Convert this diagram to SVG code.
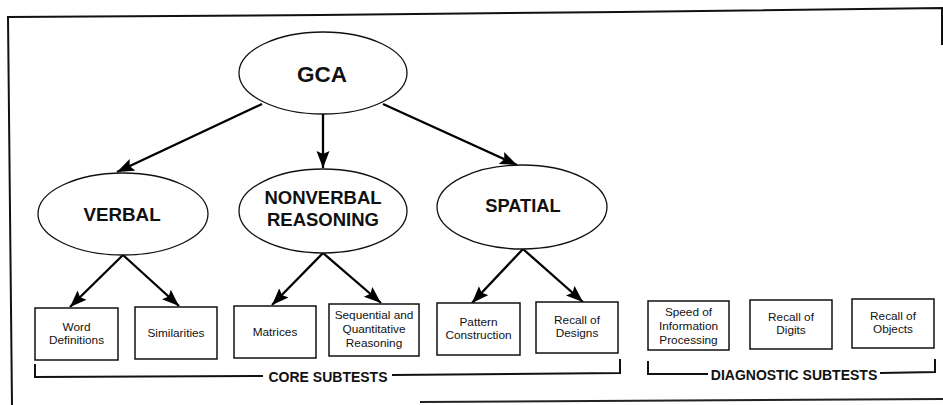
<svg xmlns="http://www.w3.org/2000/svg" width="943" height="405" viewBox="0 0 943 405">
  <defs>
    <marker id="arrow" markerUnits="userSpaceOnUse" markerWidth="18" markerHeight="14" refX="17" refY="6.5" orient="auto">
      <path d="M0,0 L17,6.5 L0,13 L3,6.5 z" fill="#000"/>
    </marker>
    <style>
      .frame { fill: none; stroke: #111; stroke-width: 2; }
      .ell { fill: #fff; stroke: #111; stroke-width: 1.3; }
      .box { fill: #fff; stroke: #111; stroke-width: 1.5; }
      .edge { fill: none; stroke: #000; stroke-width: 2.3; marker-end: url(#arrow); }
      .brk { fill: none; stroke: #111; stroke-width: 2; }
      .big { font-family: "Liberation Sans", Arial, sans-serif; font-weight: bold; fill: #111; text-anchor: middle; }
      .small { font-family: "Liberation Sans", Arial, sans-serif; font-size: 11.8px; fill: #111; text-anchor: middle; }
      .cap { font-family: "Liberation Sans", Arial, sans-serif; font-weight: bold; font-size: 14px; fill: #111; text-anchor: middle; }
    </style>
  </defs>

  <rect width="943" height="405" fill="#fff"/>

  <!-- outer frame -->
  <g id="frame">
    <path class="frame" d="M12,405 L8,17 L320,15 L620,12 L942,8 L942,45"/>
    <path d="M420,402 L943,399" fill="none" stroke="#222" stroke-width="2"/>
  </g>

  <!-- connectors -->
  <g id="connectors">
    <line class="edge" x1="262" y1="104" x2="117" y2="172"/>
    <line class="edge" x1="323" y1="114" x2="323" y2="168"/>
    <line class="edge" x1="383" y1="104" x2="517" y2="165"/>

    <line class="edge" x1="123" y1="255" x2="70" y2="307"/>
    <line class="edge" x1="123" y1="255" x2="179" y2="306"/>
    <line class="edge" x1="323" y1="253" x2="272" y2="305"/>
    <line class="edge" x1="323" y1="253" x2="381" y2="303"/>
    <line class="edge" x1="523" y1="249" x2="472" y2="303"/>
    <line class="edge" x1="523" y1="249" x2="583" y2="302"/>
  </g>

  <!-- top level -->
  <g id="gca">
    <ellipse class="ell" cx="323" cy="73" rx="84" ry="41"/>
    <text class="big" x="322" y="82" font-size="22.5">GCA</text>
  </g>

  <!-- clusters -->
  <g id="verbal">
    <ellipse class="ell" cx="123" cy="214" rx="85" ry="41"/>
    <text class="big" x="122" y="221" font-size="18.8">VERBAL</text>
  </g>
  <g id="nonverbal">
    <ellipse class="ell" cx="323" cy="211" rx="84" ry="42"/>
    <text class="big" x="323" y="204" font-size="18.5">NONVERBAL</text>
    <text class="big" x="323" y="226" font-size="18.5">REASONING</text>
  </g>
  <g id="spatial">
    <ellipse class="ell" cx="522" cy="207" rx="85" ry="42"/>
    <text class="big" x="523" y="212" font-size="18.3">SPATIAL</text>
  </g>

  <!-- core subtests -->
  <g id="word-definitions">
    <rect class="box" x="35" y="308" width="83" height="52"/>
    <text class="small" x="76.5" y="331">Word</text>
    <text class="small" x="76.5" y="344">Definitions</text>
  </g>
  <g id="similarities">
    <rect class="box" x="135" y="307" width="82" height="52"/>
    <text class="small" x="176" y="337">Similarities</text>
  </g>
  <g id="matrices">
    <rect class="box" x="234" y="306" width="82" height="52"/>
    <text class="small" x="275" y="336">Matrices</text>
  </g>
  <g id="sequential">
    <rect class="box" x="329" y="304" width="90" height="52"/>
    <text class="small" x="374" y="319">Sequential and</text>
    <text class="small" x="374" y="333">Quantitative</text>
    <text class="small" x="374" y="347">Reasoning</text>
  </g>
  <g id="pattern-construction">
    <rect class="box" x="437" y="303" width="83" height="52"/>
    <text class="small" x="478.5" y="326">Pattern</text>
    <text class="small" x="478.5" y="339">Construction</text>
  </g>
  <g id="recall-designs">
    <rect class="box" x="536" y="302" width="82" height="51"/>
    <text class="small" x="577" y="324">Recall of</text>
    <text class="small" x="577" y="337">Designs</text>
  </g>

  <!-- diagnostic subtests -->
  <g id="speed">
    <rect class="box" x="648" y="301" width="81" height="49"/>
    <text class="small" x="688.5" y="316">Speed of</text>
    <text class="small" x="688.5" y="330">Information</text>
    <text class="small" x="688.5" y="344">Processing</text>
  </g>
  <g id="recall-digits">
    <rect class="box" x="750" y="300" width="82" height="49"/>
    <text class="small" x="791" y="321">Recall of</text>
    <text class="small" x="791" y="334">Digits</text>
  </g>
  <g id="recall-objects">
    <rect class="box" x="852" y="299" width="82" height="49"/>
    <text class="small" x="893" y="320">Recall of</text>
    <text class="small" x="893" y="333">Objects</text>
  </g>

  <!-- group brackets -->
  <g id="core-bracket">
    <path class="brk" d="M35,364 L35,377 L263,376"/>
    <path class="brk" d="M392,375 L620,373 L620,359"/>
    <text class="cap" x="328" y="382">CORE SUBTESTS</text>
  </g>
  <g id="diagnostic-bracket">
    <path class="brk" d="M648,361 L648,374 L708,374"/>
    <path class="brk" d="M880,373 L935,372 L935,359"/>
    <text class="cap" x="794" y="380">DIAGNOSTIC SUBTESTS</text>
  </g>
</svg>
